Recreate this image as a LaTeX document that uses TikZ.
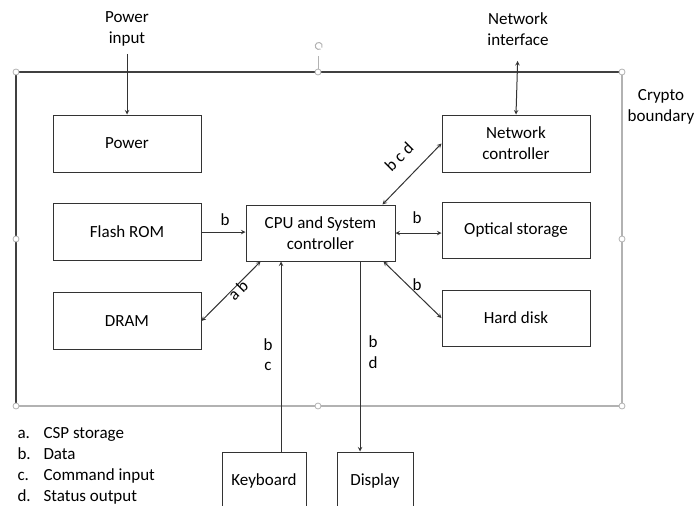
\documentclass[tikz,border=0pt]{standalone}
\usepackage{fontspec}
\setmainfont{Carlito}
\usetikzlibrary{calc,arrows}

\begin{document}
\begin{tikzpicture}[x=1pt,y=-1pt,
	font=\fontsize{17}{21}\selectfont,
	block/.style={draw=black!80,line width=1pt,minimum width=148pt,minimum height=57pt,align=center,inner sep=0pt},
	link/.style={line width=1pt,draw=black!80,>=stealth},
	handle/.style={draw=black!30,fill=white,line width=0.8pt}]
	\clip (0,0) rectangle (694,506);
	
	%boundary
	\draw[black!30,line width=1.2pt] (622,72)--(622,406)--(16,406);
	\draw[black!75,line width=1.5pt] (16,406)--(16,72)--(622,72);
	\draw[black!30,line width=0.8pt] (318,72)--(318,56);
	\draw[black!30,line width=1pt] (320.5,49) arc (60:390:3.5);
	\foreach \x/\y in {16/72,318/72,622/72,16/239,622/239,16/406,318/406,622/406}
		\filldraw[handle] (\x,\y) circle (3);
	
	%boxes
	\node[block] (power) at (127,143.5) {Power};
	\node[block] (flash) at (127,232) {Flash ROM};
	\node[block] (dram)  at (127,321) {DRAM};
	\node[block,minimum width=149pt,minimum height=56pt] (cpu) at (320.5,233) {CPU and System\\controller};
	\node[block] (net) at (516,143.5) {Network\\controller};
	\node[block,minimum height=56pt] (opt) at (516,230) {Optical storage};
	\node[block,minimum height=56pt] (hd)  at (516,318) {Hard disk};
	\node[block,minimum width=84pt,minimum height=58pt] (kbd)  at (264,481) {Keyboard};
	\node[block,minimum width=76pt,minimum height=58pt] (disp) at (375,481) {Display};
	
	%outer labels
	\node[align=center] (pwrin) at (127,29) {Power\\input};
	\node[align=center] (netif) at (518,29) {Network\\interface};
	\node[align=center] (crypto) at (661,107) {Crypto\\boundary};
	
	%arrows
	\coordinate (k) at (281,0);
	\coordinate (d) at (360,0);
	\draw[link,->,shorten <=4pt] (pwrin.south)--(power.north);
	\draw[link,<->,shorten <=12pt] (netif.south)--(net.north);
	\draw[link,->] (flash.east)--(flash.east -| cpu.west);
	\draw[link,<->] (dram.east)--($(cpu.south west)+(15,0)$);
	\draw[link,<->] ($(cpu.north east)+(-13,0)$)--(net.west);
	\draw[link,<->] (cpu.east)--(cpu.east -| opt.west);
	\draw[link,<->] ($(cpu.south east)+(-12,0)$)--(hd.west);
	\draw[link,->] (kbd.north -| k)--(cpu.south -| k);
	\draw[link,->] (cpu.south -| d)--(disp.north -| d);
	
	%arrow labels
	\node at (225,220) {b};
	\node[rotate=45] at (238,290) {a b};
	\node[rotate=45] at (399,157) {b c d};
	\node at (417,218) {b};
	\node at (417,285) {b};
	\node at (268,345) {b};
	\node at (268,366) {c};
	\node at (373,342) {b};
	\node at (373,363) {d};
	
	%legend
	\node[anchor=base west] at (14,438) {a.};
	\node[anchor=base west] at (40,438) {CSP storage};
	\node[anchor=base west] at (14,459) {b.};
	\node[anchor=base west] at (40,459) {Data};
	\node[anchor=base west] at (14,480) {c.};
	\node[anchor=base west] at (40,480) {Command input};
	\node[anchor=base west] at (14,501) {d.};
	\node[anchor=base west] at (40,501) {Status output};
\end{tikzpicture}
\end{document}
